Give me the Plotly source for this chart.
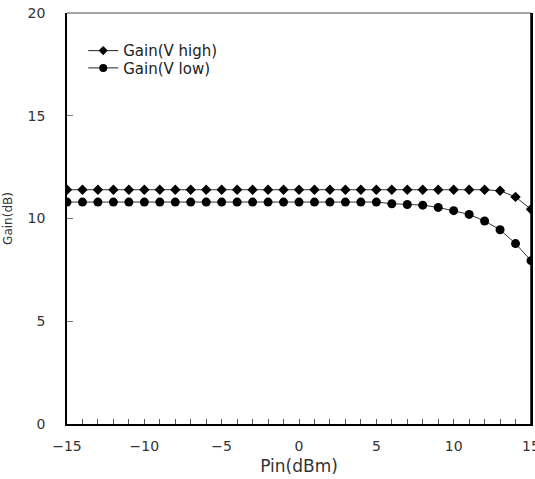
import plotly.graph_objects as go

pin = list(range(-15, 16))
gain_v_high = [11.4]*28 + [11.35, 11.05, 10.45]
gain_v_low = [10.8]*21 + [10.72, 10.68, 10.65, 10.54, 10.38, 10.2, 9.88, 9.45, 8.78, 7.95]

font_family = "DejaVu Sans, Liberation Sans, Arial, sans-serif"
names = ["Gain(V high)", "Gain(V low)"]
symbols = ["diamond", "circle"]
sizes = [8, 9]
series = [gain_v_high, gain_v_low]
legend_ids = ["legend", "legend2"]

fig = go.Figure()
for name, sym, sz, ys in zip(names, symbols, sizes, series):
    fig.add_trace(go.Scatter(
        x=pin, y=ys, mode="lines+markers", name=name, showlegend=False,
        line=dict(color="#333333", width=1),
        marker=dict(symbol=sym, size=sz, color="black"),
    ))
for name, sym, sz, lg in zip(names, symbols, sizes, legend_ids):
    fig.add_trace(go.Scatter(
        x=[None], y=[None], mode="lines+markers", name=name, showlegend=True,
        legend=lg,
        line=dict(color="#222222", width=1),
        marker=dict(symbol=sym, size=sz - 1, color="black"),
    ))

leg_common = dict(xanchor="left", yanchor="top", bgcolor="rgba(0,0,0,0)",
                  itemwidth=30, font=dict(size=15, color="#222222"),
                  tracegroupgap=0)

fig.update_layout(
    width=535, height=479,
    margin=dict(l=67, r=4, t=13, b=55, autoexpand=False),
    paper_bgcolor="white", plot_bgcolor="white",
    font=dict(family=font_family, size=14, color="#333333"),
    showlegend=True,
    legend=dict(x=0.035, y=0.948, **leg_common),
    legend2=dict(x=0.035, y=0.906, **leg_common),
    xaxis=dict(
        range=[-15, 15], tickvals=[-15, -10, -5, 0, 5, 10, 15],
        ticks="inside", ticklen=5, tickcolor="#555555",
        minor=dict(dtick=1, ticks="inside", ticklen=5, tickcolor="#555555"),
        showline=True, linecolor="black", linewidth=1.5,
        showgrid=False, zeroline=False, automargin=False,
        ticklabelstandoff=8, ticklabeloverflow="allow",
        title=dict(text="Pin(dBm)", font=dict(size=17, color="#333333"), standoff=8),
        tickfont=dict(size=14),
    ),
    yaxis=dict(
        range=[0, 20], tickvals=[0, 5, 10, 15, 20],
        ticks="inside", ticklen=6, tickcolor="#777777",
        showline=True, linecolor="black", linewidth=1.5, mirror=True,
        showgrid=False, zeroline=False, automargin=False,
        ticklabelstandoff=17, ticklabeloverflow="allow",
        title=dict(text="Gain(dB)", font=dict(size=12, color="#333333"), standoff=12),
        tickfont=dict(size=14),
    ),
    shapes=[
        dict(type="line", xref="paper", yref="paper", x0=0, x1=1, y0=1, y1=1,
             line=dict(color="#888888", width=1.5)),
        dict(type="line", xref="paper", yref="paper", x0=1, x1=1, y0=0, y1=1,
             line=dict(color="black", width=1.5)),
    ],
)

fig.write_html(
    "out.html",
    config={"displayModeBar": False},
    post_script=(
        "document.documentElement.style.overflow='hidden';"
        "document.body.style.margin='0';document.body.style.overflow='hidden';"
    ),
)
